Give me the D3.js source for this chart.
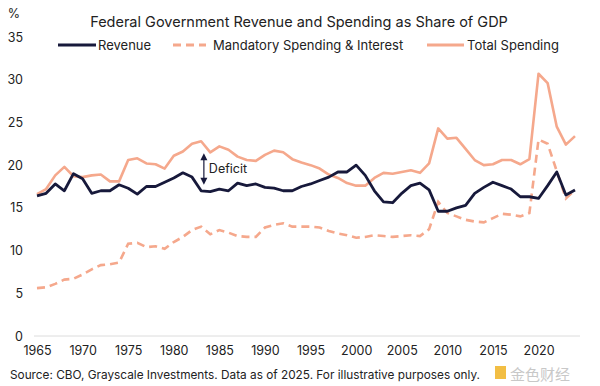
<!DOCTYPE html>
<html><head><meta charset="utf-8">
<script src="https://cdn.jsdelivr.net/npm/d3@7"></script>
<style>
html,body{margin:0;padding:0;background:#fff;}
svg{display:block;font-family:"Inter","Lato",sans-serif;}
</style></head>
<body><svg id="c" width="600" height="386"></svg>
<script>
const years = d3.range(1965, 2025);
const revenue = [16.4,16.7,17.8,17.0,19.0,18.4,16.7,17.0,17.0,17.7,17.3,16.6,17.5,17.5,18.0,18.5,19.1,18.6,17.0,16.9,17.2,17.0,17.9,17.6,17.8,17.4,17.3,17.0,17.0,17.5,17.8,18.2,18.6,19.2,19.2,20.0,18.8,17.0,15.7,15.6,16.7,17.6,17.9,17.1,14.6,14.6,15.0,15.3,16.7,17.4,18.0,17.6,17.2,16.3,16.3,16.1,17.6,19.2,16.5,17.1];
const mandatory = [5.6,5.7,6.1,6.6,6.7,7.2,7.8,8.3,8.4,8.6,10.8,10.9,10.4,10.5,10.2,11.0,11.6,12.4,12.8,11.9,12.4,12.1,11.7,11.6,11.6,12.7,13.0,13.2,12.8,12.8,12.8,12.7,12.3,12.0,11.8,11.5,11.6,11.8,11.7,11.6,11.7,11.8,11.7,12.5,15.7,14.4,14.0,13.6,13.4,13.3,13.8,14.3,14.2,14.0,14.4,23.0,22.5,19.3,16.1,17.1];
const totalSpending = [16.6,17.2,18.8,19.8,18.7,18.6,18.8,18.9,18.1,18.1,20.6,20.8,20.2,20.1,19.6,21.1,21.6,22.5,22.8,21.5,22.2,21.8,21.0,20.6,20.5,21.2,21.7,21.5,20.7,20.3,20.0,19.6,18.9,18.5,17.9,17.6,17.6,18.5,19.1,19.0,19.2,19.4,19.1,20.2,24.3,23.1,23.2,21.9,20.6,20.0,20.1,20.6,20.6,20.1,20.7,30.7,29.6,24.5,22.4,23.4];
const xTicks = [1965,1970,1975,1980,1985,1990,1995,2000,2005,2010,2015,2020];
const yTicks = [0,5,10,15,20,25,30,35];
const seriesNames = ["Revenue","Mandatory Spending & Interest","Total Spending"];
const deficitYear = 1983.3, deficitTop = 21.4, deficitBottom = 17.7;

const NAVY = "#17193b", SALMON = "#f5a88c", TEXT = "#222";
const svg = d3.select("#c");
const x = d3.scaleLinear().domain([1965, 2024]).range([37, 575]);
const y = d3.scaleLinear().domain([0, 35]).range([336, 37]);

// title
svg.append("text").attr("x", 299).attr("y", 27).attr("text-anchor","middle")
  .attr("font-size", 14.5).attr("fill", TEXT).text("Federal Government Revenue and Spending as Share of GDP");
svg.append("text").attr("x", 14).attr("y", 18).attr("text-anchor","middle")
  .attr("font-size", 12.5).attr("fill", TEXT).text("%");

// baseline
svg.append("line").attr("x1", 34).attr("x2", 580).attr("y1", y(0)).attr("y2", y(0))
  .attr("stroke", "#dcdcdc").attr("stroke-width", 1);

// y axis
const yAxis = svg.append("g").attr("transform","translate(23,0)")
  .call(d3.axisLeft(y).tickValues(yTicks).tickSize(0).tickPadding(0));
yAxis.select(".domain").remove();
yAxis.selectAll("text").attr("font-size", 12.5).attr("fill", TEXT).attr("font-family","Inter, sans-serif");

// x axis
const xAxis = svg.append("g").attr("transform","translate(0,346)")
  .call(d3.axisBottom(x).tickValues(xTicks).tickFormat(d3.format("d")).tickSize(0).tickPadding(0));
xAxis.select(".domain").remove();
xAxis.selectAll("text").attr("font-size", 12.5).attr("fill", TEXT).attr("font-family","Inter, sans-serif");

const line = d3.line().x((d,i)=>x(years[i])).y(d=>y(d));
svg.append("path").datum(mandatory).attr("d", line).attr("fill","none")
  .attr("stroke", SALMON).attr("stroke-width", 2.6).attr("stroke-dasharray","8,5");
svg.append("path").datum(totalSpending).attr("d", line).attr("fill","none")
  .attr("stroke", SALMON).attr("stroke-width", 2.6).attr("stroke-linejoin","round");
svg.append("path").datum(revenue).attr("d", line).attr("fill","none")
  .attr("stroke", NAVY).attr("stroke-width", 2.8).attr("stroke-linejoin","round");

// legend
const lg = svg.append("g").attr("font-size", 13).attr("fill", TEXT);
const legendItems = [
  {name: seriesNames[0], x1: 58, x2: 96, color: NAVY, dash: null, tx: 98},
  {name: seriesNames[1], x1: 173, x2: 206, color: SALMON, dash: "8,5", tx: 213},
  {name: seriesNames[2], x1: 427, x2: 464, color: SALMON, dash: null, tx: 467}
];
legendItems.forEach(it => {
  lg.append("line").attr("x1", it.x1).attr("x2", it.x2).attr("y1", 45).attr("y2", 45)
    .attr("stroke", it.color).attr("stroke-width", 2.8).attr("stroke-dasharray", it.dash);
  lg.append("text").attr("x", it.tx).attr("y", 49.5).attr("fill", TEXT).text(it.name);
});

// deficit annotation
const ax = x(deficitYear), ay1 = y(deficitTop), ay2 = y(deficitBottom);
svg.append("line").attr("x1", ax).attr("x2", ax).attr("y1", ay1+5).attr("y2", ay2-5)
  .attr("stroke", NAVY).attr("stroke-width", 1.2);
svg.append("path").attr("d", `M${ax},${ay1} L${ax-3.5},${ay1+7} L${ax+3.5},${ay1+7} Z`).attr("fill", NAVY);
svg.append("path").attr("d", `M${ax},${ay2} L${ax-3.5},${ay2-7} L${ax+3.5},${ay2-7} Z`).attr("fill", NAVY);
svg.append("text").attr("x", ax+5).attr("y", (ay1+ay2)/2+4.5).attr("font-size", 12.5)
  .attr("fill", TEXT).text("Deficit");

// source
svg.append("text").attr("x", 10).attr("y", 379).attr("font-size", 11.8).attr("fill", TEXT)
  .text("Source: CBO, Grayscale Investments. Data as of 2025. For illustrative purposes only.");
// watermark
svg.append("rect").attr("x", 495).attr("y", 366).attr("width", 11).attr("height", 13).attr("fill", "#f0b323").attr("opacity", 0.85);
svg.append("text").attr("x", 510).attr("y", 380).attr("font-size", 15).attr("fill", "#c8c8c8")
  .attr("font-family", "Noto Sans CJK SC, sans-serif").text("金色财经");
</script></body></html>
